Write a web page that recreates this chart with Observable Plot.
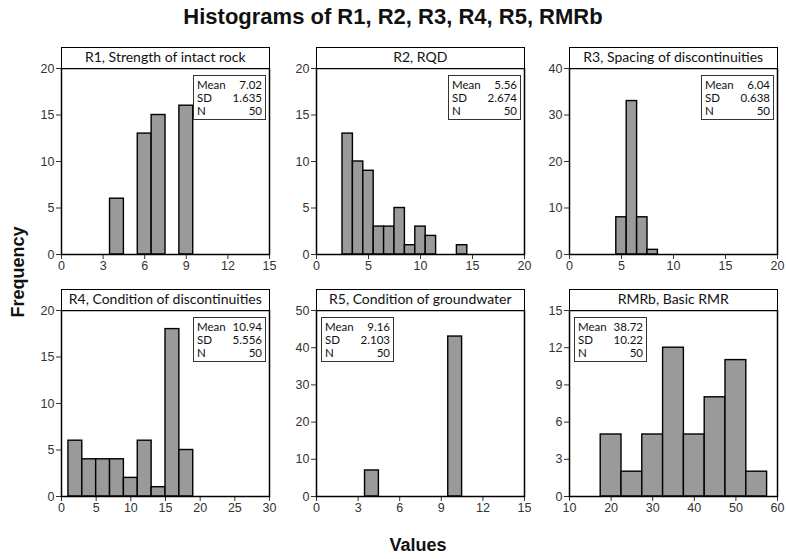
<!DOCTYPE html>
<html>
<head>
<meta charset="utf-8">
<script src="https://cdn.jsdelivr.net/npm/d3@7"></script>
<script src="https://cdn.jsdelivr.net/npm/@observablehq/plot@0.6"></script>
<style>
  html, body { margin: 0; padding: 0; background: #fff; }
  #chart { position: relative; width: 786px; height: 559px; background: #fff; font-family: "Liberation Sans", Arial, sans-serif; overflow: hidden; }
  .hdr { position: absolute; box-sizing: border-box; border: 1.5px solid #000; background: #fff; text-align: center; font-family: Lato, "Open Sans", sans-serif; font-size: 14px; line-height: 18px; color: #111; white-space: nowrap; }
  .stats { position: absolute; box-sizing: border-box; border: 1px solid #333; background: #fff; font-family: Lato, "Open Sans", sans-serif; font-size: 11.5px; line-height: 13px; color: #111; padding: 2px 3px 2px 3px; }
  .stats .row { display: flex; justify-content: space-between; }
  .plotsvg { position: absolute; }
</style>
</head>
<body>
<div id="chart"></div>
<script>
// ---- data ----
const chartTitle = "Histograms of R1, R2, R3, R4, R5, RMRb";
const yLabel = "Frequency";
const xLabel = "Values";
const panelTitles = ["R1, Strength of intact rock", "R2, RQD", "R3, Spacing of discontinuities",
                     "R4, Condition of discontinuities", "R5, Condition of groundwater", "RMRb, Basic RMR"];
const r1Centers = [4, 6, 7, 9];                 const r1Counts = [6, 13, 15, 16];
const r2Centers = [3, 4, 5, 6, 7, 8, 9, 10, 11, 14]; const r2Counts = [13, 10, 9, 3, 3, 5, 1, 3, 2, 1];
const r3Centers = [5, 6, 7, 8];                 const r3Counts = [8, 33, 8, 1];
const r4Centers = [2, 4, 6, 8, 10, 12, 14, 16, 18]; const r4Counts = [6, 4, 4, 4, 2, 6, 1, 18, 5];
const r5Centers = [4, 10];                      const r5Counts = [7, 43];
const rmrCenters = [20, 25, 30, 35, 40, 45, 50, 55]; const rmrCounts = [5, 2, 5, 12, 5, 8, 11, 2];
const binWidths = [1, 1, 1, 2, 1, 5];
const xTicks = [[0, 3, 6, 9, 12, 15], [0, 5, 10, 15, 20], [0, 5, 10, 15, 20],
                [0, 5, 10, 15, 20, 25, 30], [0, 3, 6, 9, 12, 15], [10, 20, 30, 40, 50, 60]];
const yTicks = [[0, 5, 10, 15, 20], [0, 5, 10, 15, 20], [0, 10, 20, 30, 40],
                [0, 5, 10, 15, 20], [0, 10, 20, 30, 40, 50], [0, 3, 6, 9, 12, 15]];
const means = ["7.02", "5.56", "6.04", "10.94", "9.16", "38.72"];
const sds = ["1.635", "2.674", "0.638", "5.556", "2.103", "10.22"];
const ns = ["50", "50", "50", "50", "50", "50"];
const statsSide = ["right", "right", "right", "right", "left", "left"];

const centers = [r1Centers, r2Centers, r3Centers, r4Centers, r5Centers, rmrCenters];
const counts = [r1Counts, r2Counts, r3Counts, r4Counts, r5Counts, rmrCounts];

// ---- layout ----
const colLeft = [61, 316, 569];
const rowTop = [68, 310];
const plotW = 208, plotH = 186, hdrH = 21;
const mL = 30, mR = 12, mT = 2, mB = 24;

const chart = document.getElementById("chart");

function addDiv(cls, styles, html) {
  const d = document.createElement("div");
  if (cls) d.className = cls;
  Object.assign(d.style, styles);
  if (html !== undefined) d.innerHTML = html;
  chart.appendChild(d);
  return d;
}

addDiv(null, {position: "absolute", left: "0px", top: "4px", width: "786px", textAlign: "center",
  fontWeight: "bold", fontSize: "22px", color: "#111"}).textContent = chartTitle;
addDiv(null, {position: "absolute", left: "18px", top: "272px", transform: "translate(-50%,-50%) rotate(-90deg)",
  fontWeight: "bold", fontSize: "18px", color: "#111", whiteSpace: "nowrap"}).textContent = yLabel;
addDiv(null, {position: "absolute", left: "418px", top: "545px", transform: "translate(-50%,-50%)",
  fontWeight: "bold", fontSize: "18px", color: "#111"}).textContent = xLabel;

for (let i = 0; i < 6; i++) {
  const L = colLeft[i % 3], T = rowTop[Math.floor(i / 3)];
  const w = binWidths[i];
  const data = centers[i].map((c, j) => ({x1: c - w / 2, x2: c + w / 2, count: counts[i][j]}));
  const xt = xTicks[i], yt = yTicks[i];
  const svg = Plot.plot({
    width: mL + plotW + mR, height: mT + plotH + mB,
    marginLeft: mL, marginRight: mR, marginTop: mT, marginBottom: mB,
    style: {fontFamily: "'Liberation Sans', Arial, sans-serif", fontSize: "12.5px", color: "#333", background: "transparent", overflow: "visible"},
    x: {domain: [xt[0], xt[xt.length - 1]], ticks: xt, tickSize: 5, tickPadding: 2, label: null},
    y: {domain: [0, yt[yt.length - 1]], ticks: yt, tickSize: 5, tickPadding: 2, label: null},
    marks: [
      Plot.rect(data, {x1: "x1", x2: "x2", y1: 0, y2: "count", fill: "#9a9a9a", stroke: "#000", strokeWidth: 1.4}),
      Plot.ruleY([0], {stroke: "#000", strokeWidth: 1.2}),
      Plot.frame({stroke: "#000", strokeWidth: 1.5})
    ]
  });
  svg.classList.add("plotsvg");
  svg.style.left = (L - mL) + "px";
  svg.style.top = (T - mT) + "px";
  chart.appendChild(svg);

  addDiv("hdr", {left: (L - 0.5) + "px", top: (T - hdrH) + "px", width: (plotW + 1.5) + "px", height: (hdrH + 1) + "px"})
    .textContent = panelTitles[i];

  const sx = statsSide[i] === "right" ? (L + plotW - 76) : (L + 5);
  addDiv("stats", {left: sx + "px", top: (T + 7) + "px", width: "73px"},
    `<div class="row"><span>Mean</span><span>${means[i]}</span></div>` +
    `<div class="row"><span>SD</span><span>${sds[i]}</span></div>` +
    `<div class="row"><span>N</span><span>${ns[i]}</span></div>`);
}
</script>
</body>
</html>
